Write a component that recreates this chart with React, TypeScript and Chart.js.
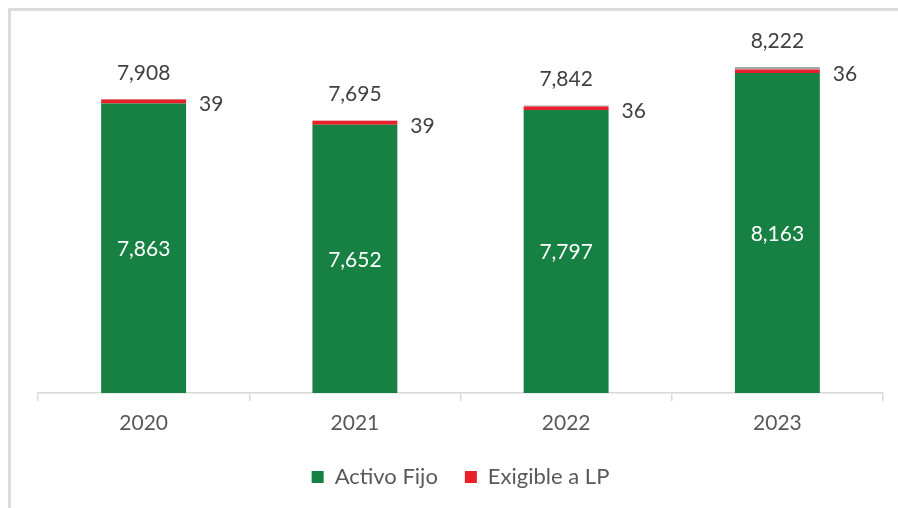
import React, { useEffect, useRef } from 'react';
import { Chart, registerables } from 'chart.js';

Chart.register(...registerables);

const categories = ['2020', '2021', '2022', '2023'];
const activoFijo = [7863, 7652, 7797, 8163];
const exigibleLP = [39, 39, 36, 36];
const otros = [6, 4, 9, 23];
const totals = [7908, 7695, 7842, 8222];
const yMin = 5000;
const yMax = 8500;

const FONT = 'Lato, "Noto Sans", sans-serif';
const fmt = (v: number) => v.toLocaleString('en-US');

const labelPlugin = {
  id: 'barLabels',
  afterDatasetsDraw(chart: any) {
    const ctx = chart.ctx;
    const bottom = chart.chartArea.bottom;
    ctx.save();
    ctx.font = `21px ${FONT}`;
    ctx.textBaseline = 'middle';
    const mGreen = chart.getDatasetMeta(0);
    const mRed = chart.getDatasetMeta(1);
    const mTop = chart.getDatasetMeta(2);
    mGreen.data.forEach((el: any, i: number) => {
      ctx.fillStyle = '#ffffff';
      ctx.textAlign = 'center';
      const base = Math.min(el.base, bottom);
      ctx.fillText(fmt(activoFijo[i]), el.x, (el.y + base) / 2 + 1);
    });
    mRed.data.forEach((el: any, i: number) => {
      ctx.fillStyle = '#404040';
      ctx.textAlign = 'left';
      ctx.fillText(fmt(exigibleLP[i]), el.x + el.width / 2 + 13, (el.y + el.base) / 2 + 3);
    });
    mTop.data.forEach((el: any, i: number) => {
      ctx.fillStyle = '#404040';
      ctx.textAlign = 'center';
      ctx.fillText(fmt(totals[i]), el.x, el.y - 26);
    });
    ctx.restore();
  },
};

export default function App() {
  const ref = useRef<HTMLCanvasElement | null>(null);
  useEffect(() => {
    if (!ref.current) return;
    const chart = new Chart(ref.current, {
      type: 'bar',
      data: {
        labels: categories,
        datasets: [
          { label: 'Activo Fijo', data: activoFijo, backgroundColor: '#168143', categoryPercentage: 1, barPercentage: 0.402 },
          { label: 'Exigible a LP', data: exigibleLP, backgroundColor: '#e8202a', categoryPercentage: 1, barPercentage: 0.402 },
          { label: 'Otros', data: otros, backgroundColor: '#a6a6a6', categoryPercentage: 1, barPercentage: 0.402 },
        ],
      },
      options: {
        animation: false,
        responsive: false,
        maintainAspectRatio: false,
        layout: { padding: { left: 38, right: 15, top: 39, bottom: 10 } },
        scales: {
          x: {
            stacked: true,
            grid: { offset: true, drawOnChartArea: false, tickLength: 8, color: '#d9d9d9', lineWidth: 1.5 },
            border: { color: '#d9d9d9', width: 1.5 },
            ticks: { color: '#595959', font: { family: FONT, size: 21 }, padding: 10 },
            afterFit: (scale: any) => { scale.height = 46; },
          },
          y: { stacked: true, display: false, min: yMin, max: yMax },
        },
        plugins: {
          legend: {
            position: 'bottom',
            labels: {
              filter: (item: any) => item.datasetIndex !== 2,
              boxWidth: 12,
              boxHeight: 12,
              color: '#595959',
              font: { family: FONT, size: 22 },
              padding: 27,
            },
          },
          tooltip: { enabled: false },
        },
      },
      plugins: [labelPlugin],
    });
    return () => chart.destroy();
  }, []);
  return (
    <div style={{ position: 'absolute', left: 0, top: 0, width: 898, height: 508, background: '#ffffff', overflow: 'hidden' }}>
      <div style={{ position: 'absolute', left: 8, top: 8, width: 920, height: 540, borderLeft: '3px solid #dcdcdc', borderTop: '3px solid #dcdcdc' }} />
      <canvas ref={ref} width={898} height={508} style={{ position: 'absolute', left: 0, top: 0, width: 898, height: 508 }} />
    </div>
  );
}
